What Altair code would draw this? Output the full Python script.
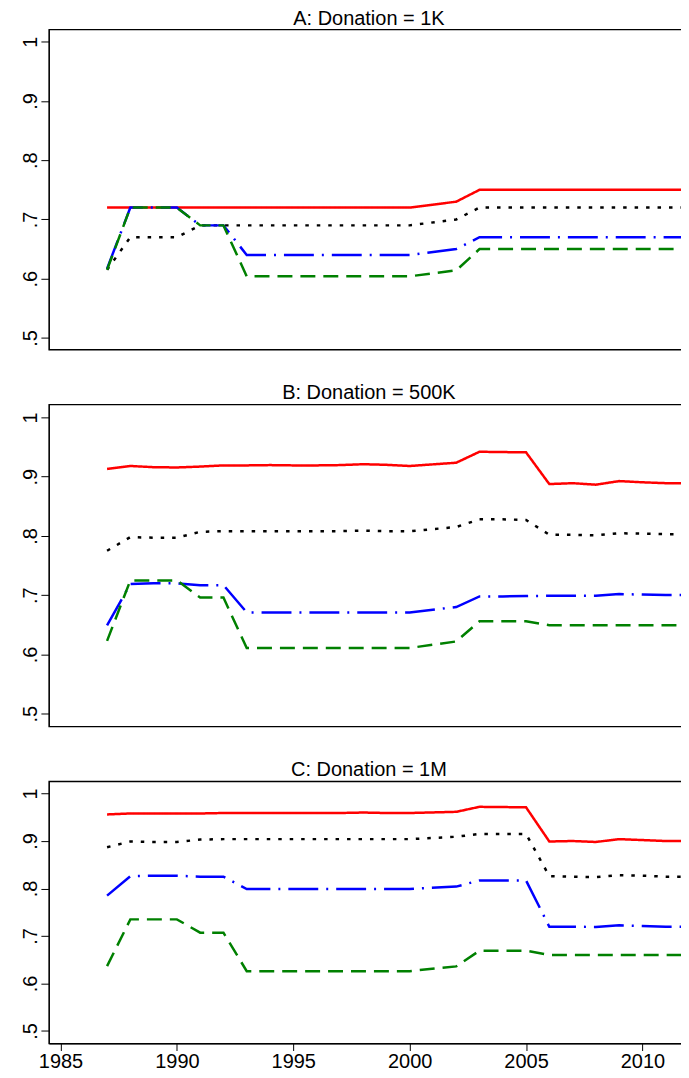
import altair as alt
import pandas as pd

years = [1987, 1988, 1989, 1990, 1991, 1992, 1993, 1994, 1995, 1996, 1997, 1998, 1999,
         2000, 2002, 2003, 2004, 2005, 2006, 2007, 2008, 2009, 2010, 2011, 2012]

# Panel A: Donation = 1K
a_red = [.72, .72, .72, .72, .72, .72, .72, .72, .72, .72, .72, .72, .72, .72,
         .73, .75, .75, .75, .75, .75, .75, .75, .75, .75, .75]
a_black = [.615, .67, .67, .67, .69, .69, .69, .69, .69, .69, .69, .69, .69, .69,
           .70, .72, .72, .72, .72, .72, .72, .72, .72, .72, .72]
a_blue = [.617, .72, .72, .72, .69, .69, .64, .64, .64, .64, .64, .64, .64, .64,
          .65, .67, .67, .67, .67, .67, .67, .67, .67, .67, .67]
a_green = [.615, .72, .72, .72, .69, .69, .604, .604, .604, .604, .604, .604, .604, .604,
           .614, .65, .65, .65, .65, .65, .65, .65, .65, .65, .65]

# Panel B: Donation = 500K
b_red = [.913, .918, .916, .9155, .917, .919, .919, .9195, .919, .919, .9195, .921, .920, .918,
         .9235, .942, .9415, .941, .8875, .889, .8865, .8925, .8905, .889, .889]
b_black = [.775, .798, .797, .797, .807, .808, .808, .808, .808, .808, .808, .809, .808, .808,
           .815, .828, .828, .827, .802, .802, .801, .8045, .804, .803, .803]
b_blue = [.649, .719, .720, .720, .717, .717, .671, .671, .671, .671, .671, .671, .671, .671,
          .680, .698, .698, .6985, .699, .699, .699, .702, .701, .7005, .7005]
b_green = [.623, .725, .725, .725, .696, .696, .611, .611, .611, .611, .611, .611, .611, .611,
           .622, .656, .656, .656, .6495, .6495, .6495, .6495, .6495, .6495, .6495]

# Panel C: Donation = 1M
c_red = [.956, .958, .958, .958, .958, .959, .959, .959, .959, .959, .959, .960, .959, .959,
         .9615, .972, .9715, .971, .899, .900, .898, .904, .902, .900, .900]
c_black = [.887, .899, .898, .898, .903, .904, .904, .904, .904, .904, .904, .904, .904, .904,
           .909, .915, .915, .915, .826, .825, .824, .828, .827, .825, .825]
c_blue = [.785, .826, .827, .827, .825, .825, .799, .799, .799, .799, .799, .799, .799, .799,
          .804, .817, .817, .817, .7195, .7195, .719, .7225, .721, .7195, .7195]
c_green = [.6365, .735, .735, .735, .707, .707, .626, .626, .626, .626, .626, .626, .626, .626,
           .636, .669, .669, .669, .66, .66, .66, .66, .66, .66, .66]

titles = ["A: Donation = 1K", "B: Donation = 500K", "C: Donation = 1M"]
y_ticks = [0.5, 0.6, 0.7, 0.8, 0.9, 1.0]
x_ticks = [1985, 1990, 1995, 2000, 2005, 2010]

FONT = "Liberation Sans"
styles = [("#FF0000", [1, 0]), ("#000000", [3.5, 8]), ("#0000FF", [30, 8, 2, 8]), ("#008000", [15, 8])]

W = 642


def panel(title, series, height, ydom, show_x):
    yaxis = alt.Axis(values=y_ticks, labelAngle=270, labelAlign="center", labelBaseline="alphabetic",
                     labelPadding=4, tickSize=8, labelFontSize=20, labelFont=FONT, labelColor="black",
                     domainColor="black", tickColor="black", grid=False, title=None,
                     labelExpr="datum.value >= 1 ? '1' : '.' + format(round(datum.value*10), 'd')")
    if show_x:
        xaxis = alt.Axis(values=x_ticks, format="d", tickSize=7, labelFontSize=20, labelFont=FONT,
                         labelColor="black", labelPadding=1, domainColor="black", tickColor="black",
                         grid=False, title=None, labelFlush=False)
    else:
        xaxis = None
    layers = []
    for vals, (color, dash) in zip(series, styles):
        df = pd.DataFrame({"year": years, "v": vals})
        layers.append(
            alt.Chart(df).mark_line(color=color, strokeDash=dash, strokeWidth=2.5, strokeCap="butt", clip=True)
            .encode(
                x=alt.X("year:Q", scale=alt.Scale(domain=[1984.5, 2012.0], nice=False, zero=False), axis=xaxis),
                y=alt.Y("v:Q", scale=alt.Scale(domain=ydom, nice=False, zero=False), axis=yaxis),
            )
        )
    return alt.layer(*layers).properties(
        width=W, height=height,
        title=alt.TitleParams(title, fontSize=20, font=FONT, fontWeight="normal", color="black",
                              anchor="middle", offset=1),
    )


pA = panel(titles[0], [a_red, a_black, a_blue, a_green], 321, [0.4803, 1.0207], False)
pB = panel(titles[1], [b_red, b_black, b_blue, b_green], 323, [0.4786, 1.0219], False)
pC = panel(titles[2], [c_red, c_black, c_blue, c_green], 263, [0.4736, 1.0258], True)

chart = alt.vconcat(pA, pB, pC, spacing=32).properties(
    padding={"left": 12, "top": -2, "right": -9, "bottom": 0},
    background="white",
).configure_view(stroke="black", strokeWidth=1.3)

chart.save("out.html", embed_options={"renderer": "svg", "actions": False})
